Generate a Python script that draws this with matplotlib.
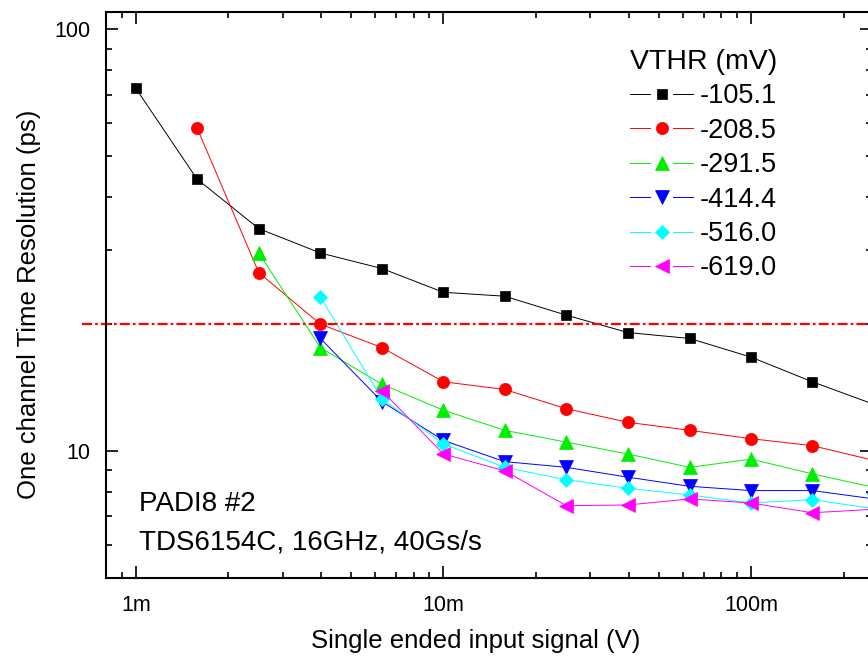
import matplotlib
matplotlib.use("Agg")
import matplotlib.pyplot as plt
import matplotlib.ticker as mticker
from matplotlib.lines import Line2D
from matplotlib.legend_handler import HandlerLine2D

plt.rcParams['font.family'] = ['Liberation Sans', 'DejaVu Sans']

# ---- data ----
x_signal = [0.001, 0.00158, 0.00251, 0.00398, 0.00631, 0.01, 0.0158,
            0.0251, 0.0398, 0.0631, 0.1, 0.158, 0.251]

vthr_labels = ["-105.1", "-208.5", "-291.5", "-414.4", "-516.0", "-619.0"]

res_105 = [72.5, 44.2, 33.7, 29.5, 27.1, 23.8, 23.3, 21.0, 19.1, 18.5, 16.7, 14.6, 12.9]
res_208 = [None, 58.5, 26.5, 20.0, 17.6, 14.6, 14.0, 12.6, 11.7, 11.2, 10.7, 10.3, 9.5]
res_291 = [None, None, 29.5, 17.6, 14.4, 12.5, 11.2, 10.5, 9.84, 9.15, 9.57, 8.83, 8.2]
res_414 = [None, None, None, 18.5, 13.1, 10.6, 9.44, 9.15, 8.67, 8.25, 8.06, 8.06, 7.7]
res_516 = [None, None, None, 23.2, 13.3, 10.4, 9.15, 8.55, 8.16, 7.87, 7.53, 7.67, 7.3]
res_619 = [None, None, None, None, 13.9, 9.84, 8.98, 7.42, 7.45, 7.70, 7.53, 7.14, 7.28]

series = [res_105, res_208, res_291, res_414, res_516, res_619]
colors = ["#000000", "#FF0000", "#00EE00", "#0000FF", "#00FFFF", "#FF00FF"]
markers = ["s", "o", "^", "v", "D", "<"]
msizes = [7.5, 8.8, 10, 10, 7.6, 10]

reference_level = 20.0  # ps

x_ticks = [0.001, 0.01, 0.1]
x_ticklabels = ["1m", "10m", "100m"]
y_ticks = [10, 100]
y_ticklabels = ["10", "100"]


class GapHandler(HandlerLine2D):
    """Legend handle: line broken around the marker."""
    def create_artists(self, legend, orig_handle, xdescent, ydescent,
                       width, height, fontsize, trans):
        y = height / 2 - ydescent
        x0 = -xdescent
        x1 = width - xdescent
        cx = (x0 + x1) / 2
        gap = 8.0
        arts = []
        for xa, xb in ((x0, cx - gap), (cx + gap, x1)):
            ln = Line2D([xa, xb], [y, y])
            self.update_prop(ln, orig_handle, legend)
            ln.set_marker("None")
            ln.set_transform(trans)
            arts.append(ln)
        mk = Line2D([cx], [y])
        self.update_prop(mk, orig_handle, legend)
        mk.set_linestyle("None")
        mk.set_transform(trans)
        arts.append(mk)
        return arts


# ---- figure ----
W, H = 868, 660
fig = plt.figure(figsize=(W / 100, H / 100), dpi=100)
left_px, right_px, top_px, bottom_px = 106, 872, 12, 578
ax = fig.add_axes([left_px / W, (H - bottom_px) / H,
                   (right_px - left_px) / W, (bottom_px - top_px) / H])

for ys, c, m, ms, lab in zip(series, colors, markers, msizes, vthr_labels):
    xs = [x for x, y in zip(x_signal, ys) if y is not None]
    yv = [y for y in ys if y is not None]
    ax.plot(xs, yv, color=c, lw=0.7, marker=m, markersize=ms,
            markerfacecolor=c, markeredgecolor=c, markeredgewidth=0.5,
            label=lab)

ax.axhline(reference_level, xmin=-0.0313, xmax=1.0, color="#FF0000", lw=1.6,
           dashes=(4.5, 1.4, 1.2, 1.4), clip_on=False)

ax.set_xscale("log")
ax.set_yscale("log")
ax.set_xlim(0.0008, 0.247)
ax.set_ylim(5, 110)

ax.set_xticks(x_ticks)
ax.set_xticklabels(x_ticklabels)
ax.set_yticks(y_ticks)
ax.set_yticklabels(y_ticklabels)
ax.yaxis.set_minor_formatter(mticker.NullFormatter())
ax.xaxis.set_minor_formatter(mticker.NullFormatter())

for s in ax.spines.values():
    s.set_linewidth(1.5)
ax.tick_params(which="both", direction="in", top=True, right=True, width=1.2)
ax.tick_params(which="major", length=8.6)
ax.tick_params(which="minor", length=4.3)
ax.tick_params(axis="x", which="major", labelsize=15.5, pad=12.5)
ax.tick_params(axis="y", which="major", labelsize=15.5, pad=11)

ax.set_xlabel("Single ended input signal (V)", fontsize=18.5, labelpad=9)
ax.set_ylabel("One channel Time Resolution (ps)", fontsize=18.5, labelpad=10)
ax.xaxis.label.set_x(0.482)
ax.yaxis.label.set_y(0.484)

ax.text(0.043, 0.1184, "PADI8 #2", transform=ax.transAxes, fontsize=20,
        ha="left", va="baseline")
ax.text(0.043, 0.0512, "TDS6154C, 16GHz, 40Gs/s", transform=ax.transAxes,
        fontsize=20, ha="left", va="baseline")

leg = ax.legend(title="VTHR (mV)", loc="upper left",
                bbox_to_anchor=(630 / W, (H - 49) / H),
                bbox_transform=fig.transFigure, frameon=False,
                fontsize=19.5, title_fontsize=20.5, borderpad=0,
                borderaxespad=0, handlelength=2.33, handletextpad=0.26,
                labelspacing=0.31, handler_map={Line2D: GapHandler()})
leg._legend_box.align = "left"

fig.savefig("out.png", dpi=100)
